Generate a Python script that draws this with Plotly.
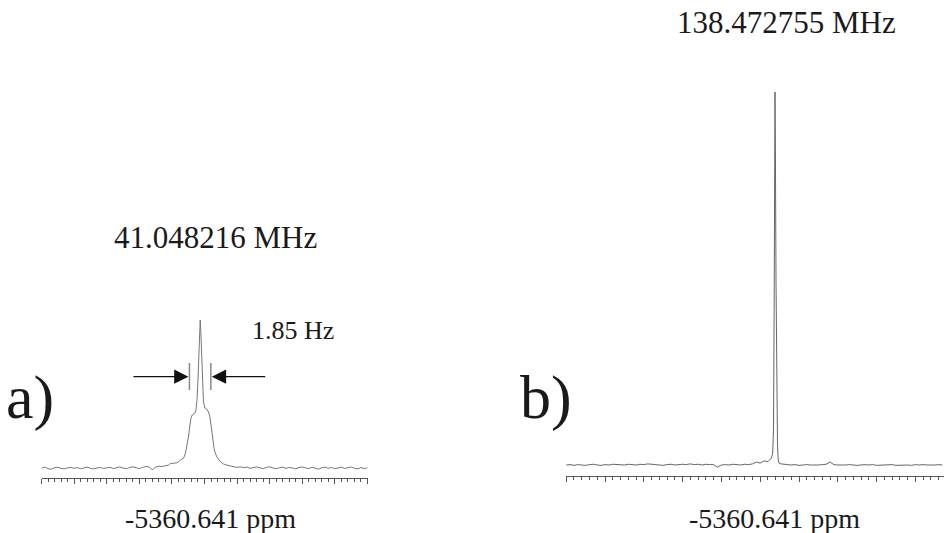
import plotly.graph_objects as go

W, H = 944, 533

# ---------------- Panel a data (x in chart units, intensity normalised) ----------------
a_base_left_x = [0.0, 0.1, 0.2, 0.3, 0.4, 0.5, 0.6, 0.7, 0.8, 0.9,
                 1.0, 1.1, 1.2, 1.3, 1.4, 1.5, 1.6, 1.7, 1.8, 1.9,
                 2.0, 2.1, 2.2, 2.3, 2.4, 2.5, 2.6, 2.7, 2.8, 2.9,
                 3.0, 3.1, 3.2, 3.3, 3.4, 3.5, 3.6, 3.7, 3.8, 3.9]
a_base_left_y = [0.000, 0.006, -0.004, -0.008, 0.002, 0.005, -0.003, -0.006, 0.001, 0.004,
                 -0.002, 0.003, -0.005, 0.002, 0.006, -0.002, -0.006, 0.000, 0.004, -0.003,
                 0.002, 0.005, -0.004, 0.001, 0.007, 0.000, -0.005, 0.003, 0.008, 0.002,
                 -0.004, 0.004, 0.010, 0.008, -0.012, 0.006, 0.012, 0.010, 0.016, 0.020]
a_peak_x = [3.954, 4.160, 4.262, 4.363, 4.415, 4.468, 4.508, 4.554, 4.585, 4.622,
            4.662, 4.708, 4.738, 4.769, 4.800, 4.831, 4.855, 4.868, 4.883, 4.908,
            4.938, 4.969, 5.015, 5.062, 5.108, 5.154, 5.200, 5.246, 5.292, 5.338,
            5.400, 5.492, 5.585, 5.677, 5.800]
a_peak_y = [0.030, 0.035, 0.054, 0.068, 0.101, 0.155, 0.209, 0.291, 0.338, 0.358,
            0.365, 0.372, 0.392, 0.459, 0.595, 0.797, 0.966, 1.000, 0.946, 0.764,
            0.561, 0.446, 0.405, 0.399, 0.385, 0.358, 0.291, 0.203, 0.135, 0.095,
            0.068, 0.041, 0.027, 0.020, 0.0135]
a_base_right_x = [5.9, 6.0, 6.1, 6.2, 6.3, 6.4, 6.5, 6.6, 6.7, 6.8,
                  6.9, 7.0, 7.1, 7.2, 7.3, 7.4, 7.5, 7.6, 7.7, 7.8,
                  7.9, 8.0, 8.1, 8.2, 8.3, 8.4, 8.5, 8.6, 8.7, 8.8,
                  8.9, 9.0, 9.1, 9.2, 9.3, 9.4, 9.5, 9.6, 9.7, 9.8,
                  9.9, 10.0]
a_base_right_y = [0.010, 0.004, 0.008, 0.002, 0.006, -0.002, 0.003, 0.007, 0.001, -0.004,
                  0.004, 0.008, 0.000, -0.005, 0.002, 0.006, -0.003, 0.004, 0.000, -0.006,
                  0.003, 0.007, 0.001, -0.004, 0.005, 0.000, -0.008, 0.002, 0.006, -0.002,
                  0.004, -0.005, 0.001, 0.006, -0.003, 0.002, 0.007, -0.002, -0.006, 0.003,
                  -0.004, 0.002]
a_fwhm_left, a_fwhm_right = 4.538, 5.194
a_bar_low, a_bar_high = 0.527, 0.709
a_arrow_y = 0.617
a_arrow_tail_left, a_arrow_tail_right = 2.775, 6.908

# ---------------- Panel b data ----------------
b_base_left_x = [0.0, 0.1, 0.2, 0.3, 0.4, 0.5, 0.6, 0.7, 0.8, 0.9,
                 1.0, 1.1, 1.2, 1.3, 1.4, 1.5, 1.6, 1.7, 1.8, 1.9,
                 2.0, 2.1, 2.2, 2.3, 2.4, 2.5, 2.6, 2.7, 2.8, 2.9,
                 3.0, 3.1, 3.2, 3.3, 3.4, 3.5, 3.6, 3.7, 3.8, 3.9,
                 4.0, 4.1, 4.2, 4.3, 4.4, 4.5, 4.6, 4.7, 4.8, 4.9,
                 5.0, 5.1, 5.2]
b_base_left_y = [0.000, 0.001, -0.001, 0.001, 0.000, -0.001, 0.001, 0.002, 0.000, -0.001,
                 0.001, 0.000, 0.002, 0.001, -0.001, 0.000, 0.002, 0.001, 0.000, 0.002,
                 0.001, 0.003, 0.002, 0.000, 0.001, -0.001, 0.001, 0.002, 0.000, 0.001,
                 0.002, 0.001, 0.003, 0.001, 0.002, 0.000, 0.002, 0.001, 0.001, -0.006,
                 0.000, 0.001, 0.000, 0.002, 0.001, 0.000, 0.002, 0.001, 0.003, 0.008,
                 0.005, 0.011, 0.009]
b_peak_x = [5.2526, 5.2912, 5.3222, 5.3428, 5.3608, 5.3737, 5.3814, 5.3918,
            5.4072, 5.4278, 5.4459, 5.4639, 5.4845, 5.5361]
b_peak_y = [0.0134, 0.0188, 0.032, 0.094, 0.442, 0.845, 1.000, 0.845,
            0.496, 0.174, 0.054, 0.0134, 0.005, 0.003]
b_base_right_x = [5.6, 5.7, 5.8, 5.9, 6.0, 6.1, 6.2, 6.3, 6.4, 6.5,
                  6.6, 6.7, 6.8, 6.9, 7.0, 7.1, 7.2, 7.3, 7.4, 7.5,
                  7.6, 7.7, 7.8, 7.9, 8.0, 8.1, 8.2, 8.3, 8.4, 8.5,
                  8.6, 8.7, 8.8, 8.9, 9.0, 9.1, 9.2, 9.3, 9.4, 9.5,
                  9.6, 9.7]
b_base_right_y = [0.002, 0.001, 0.000, 0.001, -0.001, 0.000, 0.001, 0.000, -0.001, 0.000,
                  0.001, 0.002, 0.008, 0.001, 0.000, -0.001, 0.000, 0.001, 0.000, -0.001,
                  0.000, 0.001, 0.000, 0.001, -0.001, 0.000, 0.001, 0.000, 0.001, -0.001,
                  0.000, 0.001, 0.000, -0.001, 0.001, 0.000, 0.001, 0.000, -0.001, 0.000,
                  0.001, 0.000]

titles = ["41.048216 MHz", "138.472755 MHz"]
width_label = "1.85 Hz"
axis_labels = ["-5360.641 ppm", "-5360.641 ppm"]
panel_labels = ["a)", "b)"]

a_x = a_base_left_x + a_peak_x + a_base_right_x
a_y = a_base_left_y + a_peak_y + a_base_right_y
b_x = b_base_left_x + b_peak_x + b_base_right_x
b_y = b_base_left_y + b_peak_y + b_base_right_y

def px(v):
    return v / W

def py(v):
    return 1 - v / H

FONT = "Liberation Serif"
AXC = "#555555"

fig = go.Figure()
fig.add_trace(go.Scatter(x=a_x, y=a_y, mode="lines", xaxis="x", yaxis="y",
                         line=dict(color="#777777", width=1), hoverinfo="skip"))
fig.add_trace(go.Scatter(x=b_x, y=b_y, mode="lines", xaxis="x2", yaxis="y2",
                         line=dict(color="#666666", width=1), hoverinfo="skip"))

def xax(domain, rng, anchor):
    return dict(domain=domain, range=rng, anchor=anchor, showgrid=False, zeroline=False,
                showline=True, linecolor=AXC, linewidth=1, ticks="outside", ticklen=5,
                tickwidth=1, tickcolor=AXC, dtick=1, tick0=0, showticklabels=False,
                minor=dict(dtick=0.2, ticks="outside", ticklen=3, tickwidth=1, tickcolor=AXC))

fig.update_layout(
    width=W, height=H, margin=dict(l=0, r=0, t=0, b=0),
    paper_bgcolor="white", plot_bgcolor="white", showlegend=False,
    xaxis=xax([px(41.5), px(367.5)], [0, 10], "y"),
    yaxis=dict(domain=[py(477.7), py(300)], range=[-0.0655, 1.135], visible=False),
    xaxis2=xax([px(566.2), px(943.6)], [0, 9.727], "y2"),
    yaxis2=dict(domain=[py(475.7), py(60)], range=[-0.0287, 1.0858], visible=False),
)

# FWHM marker bars
for xv in (a_fwhm_left, a_fwhm_right):
    fig.add_shape(type="line", xref="x", yref="y", x0=xv, x1=xv, y0=a_bar_low, y1=a_bar_high,
                  line=dict(color="#888888", width=1.5))

# Arrows
for tip, tail in ((a_fwhm_left - 0.03, a_arrow_tail_left), (a_fwhm_right + 0.03, a_arrow_tail_right)):
    fig.add_annotation(x=tip, y=a_arrow_y, ax=tail, ay=a_arrow_y, xref="x", yref="y",
                       axref="x", ayref="y", showarrow=True, arrowhead=2, arrowsize=2.2,
                       arrowwidth=1.3, arrowcolor="#111111", text="")

def label(text, xc, yc, size):
    fig.add_annotation(x=px(xc), y=py(yc), xref="paper", yref="paper", text=text,
                       showarrow=False, xanchor="center", yanchor="middle",
                       font=dict(family=FONT, size=size, color="#1a1a1a"))

label(titles[0], 215, 237, 31)
label(titles[1], 786, 23, 31)
label(width_label, 293, 330, 26)
label(axis_labels[0], 210, 518, 28)
label(axis_labels[1], 774, 518, 28)
label(panel_labels[0], 30, 397, 62)
label(panel_labels[1], 546, 397, 62)

fig.write_html("out.html", config={"displayModeBar": False, "staticPlot": True},
               post_script="document.body.style.margin='0px';document.body.style.overflow='hidden';")
